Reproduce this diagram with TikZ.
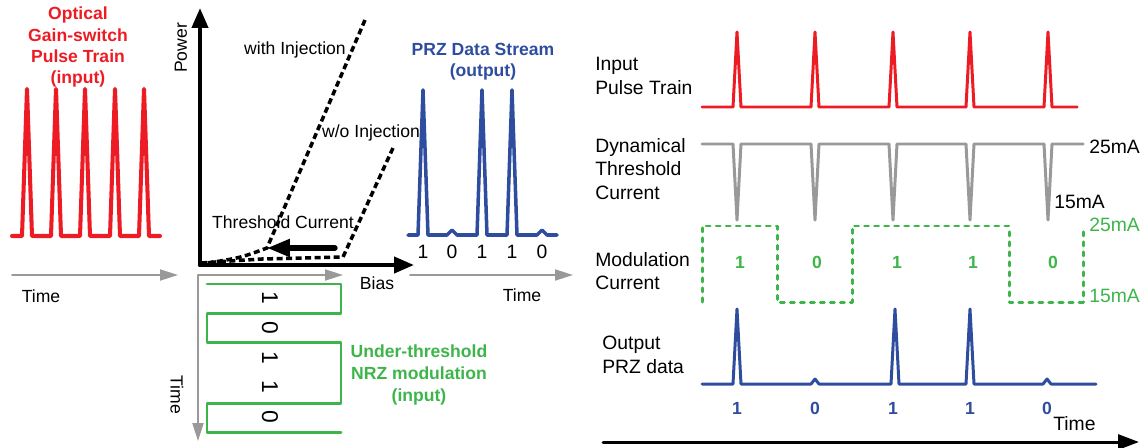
\documentclass[tikz,border=0pt]{standalone}
\usepackage{fontspec}
\setmainfont{Liberation Sans}
\usetikzlibrary{arrows.meta}
\definecolor{pulsered}{HTML}{ED1C24}
\definecolor{przblue}{HTML}{2E4D9E}
\definecolor{nrzgreen}{HTML}{3DB54A}
\definecolor{axisgray}{HTML}{999999}
\tikzset{
  every picture/.style={line cap=round, line join=round},
  % text
  lbl/.style={font=\fontsize{10}{12}\selectfont, inner sep=0pt},
  rlbl/.style={font=\fontsize{11}{13.5}\selectfont, align=left, anchor=west, inner sep=0pt},
  ttl/.style={font=\fontsize{10}{12}\selectfont\bfseries, align=center, inner sep=0pt},
  bit/.style={font=\fontsize{11}{13}\selectfont, inner sep=0pt},
  rbit/.style={font=\fontsize{10}{12}\selectfont\bfseries, inner sep=0pt},
  % axes and arrows
  grayarrow/.style={axisgray, line width=1.1pt, -{Triangle[length=0.36cm, width=0.22cm]}},
  axisarrow/.style={line width=2.3pt, -{Triangle[length=0.4cm, width=0.32cm]}},
  % curves and waveforms
  dashcurve/.style={line width=2pt, line cap=butt, dash pattern=on 3.4pt off 2pt},
  redpulse/.style={pulsered, line width=2.3pt},
  bluepulse/.style={przblue, line width=2pt},
  nrzwave/.style={nrzgreen, line width=1.7pt},
}

\begin{document}
\begin{tikzpicture}[x=0.02cm, y=-0.02cm]
  \useasboundingbox (0,0) rectangle (1143,447);
  % ---- left: input pulse train
  \node[ttl, pulsered] (intitle) at (78,47) {Optical\\Gain-switch\\Pulse Train\\(input)};
  \draw[redpulse] (12,236) \foreach \x in {27,56,85,115,144} { -- (\x-5,236) -- (\x,89) -- (\x+5,236) } -- (160,236);
  \coordinate (tinL) at (12,275);
  \coordinate (tinR) at (178,275);
  \draw[grayarrow] (tinL) -- (tinR);
  \node[lbl] (tin) at (41,296) {Time};

  % ---- L-I curve
  \coordinate (origin) at (200,265);
  \coordinate (pwrtop) at (200,8);
  \coordinate (biasend) at (414,265);
  \draw[axisarrow] (origin) -- (pwrtop);
  \draw[axisarrow] (origin) -- (biasend);
  \node[lbl, rotate=90] (power) at (181,48) {Power};
  \node[lbl] (bias) at (377,283) {Bias};
  \draw[dashcurve] (365,20) -- (267,248) .. controls (240,258) .. (201,264);
  \draw[dashcurve] (393,148) -- (343,257) -- (262,259) .. controls (230,261) .. (201,263);
  \node[lbl] (withinj) at (295,50) {with Injection};
  \node[lbl] (woinj) at (371,133) {w/o Injection};
  \node[lbl] (thr) at (283,222) {Threshold Current};
  \coordinate (thrR) at (335,248);
  \coordinate (thrL) at (267,248);
  \draw[line width=3pt, -{Triangle[length=0.46cm, width=0.34cm]}] (thrR) -- (thrL);

  % ---- NRZ modulation along the bias axis
  \coordinate (nrzO) at (198,275);
  \coordinate (nrzB) at (343,275);
  \coordinate (nrzT) at (198,441);
  \draw[grayarrow] (nrzO) -- (nrzB);
  \draw[grayarrow] (nrzO) -- (nrzT);
  \node[lbl, rotate=-90] (tnrz) at (177,395) {Time};
  \draw[nrzwave] (207,284) -- (341,284) -- (341,313) -- (207,313) -- (207,342) -- (341,342)
    -- (341,403) -- (207,403) -- (207,432) -- (341,432);
  \foreach \b/\y [count=\i] in {1/298,0/328,1/358,1/387,0/417}
    \node[font=\fontsize{13}{15}\selectfont, inner sep=0pt, rotate=-90] (nrz\i) at (270,\y) {\b};
  \node[ttl, nrzgreen, font=\fontsize{10}{12.5}\selectfont\bfseries] (nrztitle) at (419,375) {Under-threshold\\NRZ modulation\\(input)};

  % ---- PRZ data stream
  \node[ttl, przblue] (przttl) at (483,62) {PRZ Data Stream\\(output)};
  \draw[bluepulse] (408,235) \foreach \x/\h in {423/90,452/230,482/90,512/90,542/230} { -- (\x-5,235) -- (\x,\h) -- (\x+5,235) } -- (557,235);
  \foreach \b/\x [count=\i] in {1/423,0/452,1/482,1/512,0/542}
    \node[bit] (prz\i) at (\x,252) {\b};
  \coordinate (toutL) at (410,275);
  \coordinate (toutR) at (573,275);
  \draw[grayarrow] (toutL) -- (toutR);
  \node[lbl] (tout) at (522,295) {Time};

  % ---- right: timing diagram
  \node[rlbl] (inpulse) at (595,76) {Input\\Pulse Train};
  \node[rlbl] (dynthr) at (595,169) {Dynamical\\Threshold\\Current};
  \node[rlbl] (modcur) at (595,271) {Modulation\\Current};
  \node[rlbl] (outprz) at (602,355) {Output\\PRZ data};
  \draw[pulsered, line width=1.7pt] (702,107) \foreach \x in {737,815,893,970,1048} { -- (\x-4,107) -- (\x,32) -- (\x+4,107) } -- (1077,107);
  \draw[axisgray, line width=1.7pt] (702,144) \foreach \x in {737,815,893,970,1048} { -- (\x-4,144) -- (\x,220) -- (\x+4,144) } -- (1083,144);
  \node[rlbl] (thrhi) at (1089,147) {25mA};
  \node[rlbl] (thrlo) at (1054,202) {15mA};
  \draw[nrzwave, dash pattern=on 2.3pt off 3.4pt] (702,302) -- (702,226) -- (777,226) -- (777,302) -- (852,302)
    -- (852,226) -- (1009,226) -- (1009,302) -- (1083,302) -- (1083,226);
  \node[rlbl, nrzgreen] (modhi) at (1089,225) {25mA};
  \node[rlbl, nrzgreen] (modlo) at (1089,296) {15mA};
  \foreach \b/\x [count=\i] in {1/740,0/817,1/897,1/973,0/1053}
    \node[rbit, nrzgreen] (mod\i) at (\x,262) {\b};
  \draw[przblue, line width=1.7pt] (702,384) \foreach \x/\h in {737/309,815/379,895/309,970/309,1047/379} { -- (\x-4,384) -- (\x,\h) -- (\x+4,384) } -- (1096,384);
  \foreach \b/\x [count=\i] in {1/737,0/815,1/893,1/970,0/1047}
    \node[rbit, przblue] (out\i) at (\x,408) {\b};
  \node[rlbl] (tright) at (1053,424) {Time};
  \coordinate (taxL) at (603,442);
  \coordinate (taxR) at (1139,442);
  \draw[line width=1.7pt, -{Triangle[length=0.42cm, width=0.3cm]}] (taxL) -- (taxR);
\end{tikzpicture}
\end{document}
